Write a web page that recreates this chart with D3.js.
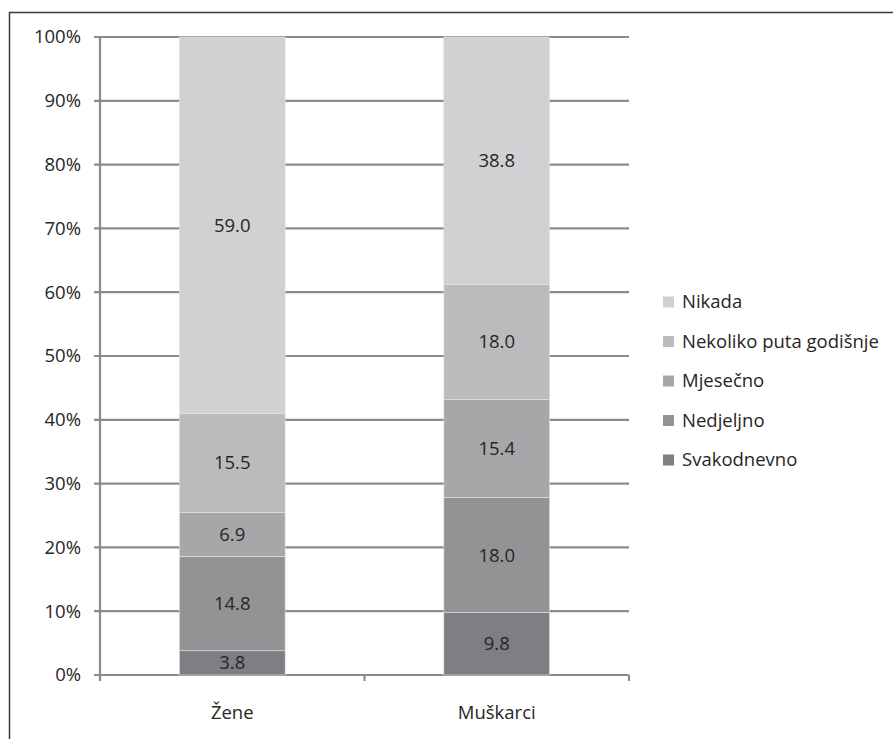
<!DOCTYPE html>
<html><head><meta charset="utf-8">
<script src="https://cdn.jsdelivr.net/npm/d3@7"></script>
<style>body{margin:0;background:#fff}svg{display:block}text{font-family:"Open Sans",sans-serif;fill:#262626}</style>
</head><body>
<script>
const categories = ["Žene", "Muškarci"];
const seriesNames = ["Svakodnevno", "Nedjeljno", "Mjesečno", "Nekoliko puta godišnje", "Nikada"];
const svakodnevno = [3.8, 9.8];
const nedjeljno = [14.8, 18.0];
const mjesecno = [6.9, 15.4];
const nekoliko = [15.5, 18.0];
const nikada = [59.0, 38.8];
const yTicks = [0, 10, 20, 30, 40, 50, 60, 70, 80, 90, 100];
const colors = ["#7f7f83", "#939396", "#a7a7aa", "#bbbbbe", "#d1d1d3"];

const seriesValues = [svakodnevno, nedjeljno, mjesecno, nekoliko, nikada];
const rows = categories.map((c, i) => {
  const r = {cat: c};
  seriesNames.forEach((s, j) => r[s] = seriesValues[j][i]);
  return r;
});
const stacked = d3.stack().keys(seriesNames)(rows);

const W = 893, H = 739, FS = 18.5;
const svg = d3.select("body").append("svg").attr("width", W).attr("height", H);
svg.append("rect").attr("x", 9.5).attr("y", 12.5).attr("width", W).attr("height", H)
  .attr("fill", "none").attr("stroke", "#3a3a3a").attr("stroke-width", 1.5);

const x0 = 100, x1 = 629, yTop = 37, yBot = 675;
const x = d3.scaleBand().domain(categories).range([x0, x1]).paddingInner(0.6).paddingOuter(0.3);
const y = d3.scaleLinear().domain([0, 100]).range([yBot, yTop]);
const grid = "#8c8c8e";

svg.append("g").selectAll("line").data(yTicks).join("line")
  .attr("x1", x0 - 6).attr("x2", x1).attr("y1", d => y(d)).attr("y2", d => y(d))
  .attr("stroke", grid).attr("stroke-width", 2.2);
svg.append("g").selectAll("text").data(yTicks).join("text")
  .attr("x", 81).attr("y", d => y(d)).attr("dy", "0.35em").attr("text-anchor", "end")
  .attr("font-size", FS).text(d => d + "%");

svg.append("line").attr("x1", x0).attr("x2", x0).attr("y1", yTop - 1).attr("y2", yBot + 6)
  .attr("stroke", grid).attr("stroke-width", 2.2);
const bounds = [x0, x0 + (x1 - x0) / 2, x1];
svg.append("g").selectAll("line").data(bounds).join("line")
  .attr("x1", d => d).attr("x2", d => d).attr("y1", yBot).attr("y2", yBot + 6)
  .attr("stroke", grid).attr("stroke-width", 2.2);

const g = svg.append("g");
stacked.forEach((s, j) => {
  g.selectAll(null).data(s).join("rect")
    .attr("x", d => x(d.data.cat)).attr("width", x.bandwidth())
    .attr("y", d => y(d[1])).attr("height", d => y(d[0]) - y(d[1]))
    .attr("fill", colors[j]).attr("stroke", "#e4e4e6").attr("stroke-width", 0.6);
});
stacked.forEach((s, j) => {
  g.selectAll(null).data(s).join("text")
    .attr("x", d => x(d.data.cat) + x.bandwidth() / 2)
    .attr("y", d => (y(d[0]) + y(d[1])) / 2).attr("dy", "0.35em")
    .attr("text-anchor", "middle").attr("font-size", FS)
    .text(d => (d[1] - d[0]).toFixed(1));
});

svg.append("g").selectAll("text").data(categories).join("text")
  .attr("x", d => x(d) + x.bandwidth() / 2).attr("y", 713).attr("dy", "0.35em")
  .attr("text-anchor", "middle").attr("font-size", FS).text(d => d);

const legendOrder = seriesNames.slice().reverse();
const lg = svg.append("g");
legendOrder.forEach((s, i) => {
  const cy = 302 + i * 39.5;
  lg.append("rect").attr("x", 663).attr("y", cy - 5.5).attr("width", 11).attr("height", 11)
    .attr("fill", colors[seriesNames.indexOf(s)]);
  lg.append("text").attr("x", 682).attr("y", cy).attr("dy", "0.35em").attr("font-size", FS).text(s);
});
</script>
</body></html>
